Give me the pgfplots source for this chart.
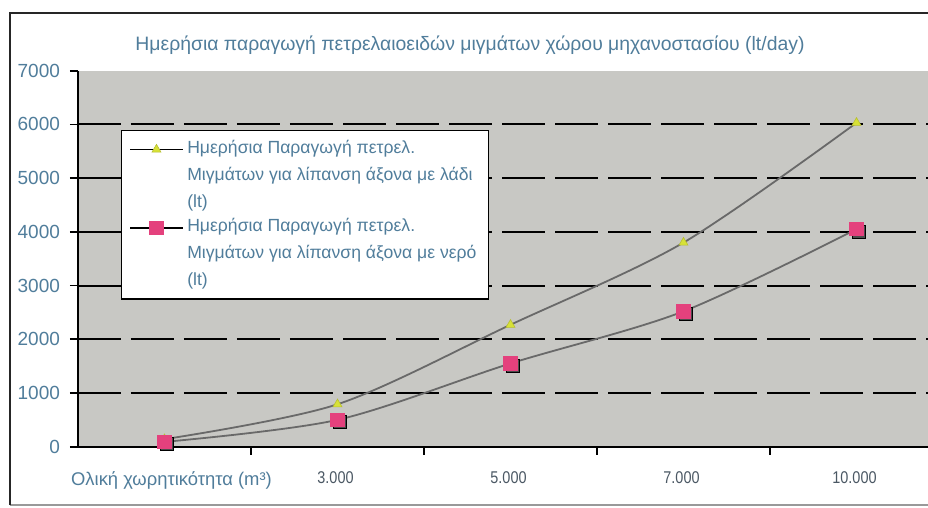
\documentclass[border=0pt]{standalone}
\usepackage{fontspec}
\setmainfont{Liberation Sans}
\newfontfamily\narrowfont[FakeStretch=0.85]{Liberation Sans}
\usepackage{pgfplots}
\pgfplotsset{compat=1.18}

\definecolor{plotgray}{RGB}{200,200,196}
\definecolor{textblue}{RGB}{80,125,155}
\definecolor{ticktext}{RGB}{75,88,100}
\definecolor{oilyellow}{RGB}{215,225,55}
\definecolor{waterpink}{RGB}{228,65,125}
\definecolor{curvegray}{RGB}{105,105,105}

% daily production, oil lubrication / water lubrication (lt)
\begin{document}
\begin{tikzpicture}
\useasboundingbox (0pt,0pt) rectangle (464pt,-254pt);
\clip (0pt,0pt) rectangle (464pt,-254pt);
\fill[white] (0pt,0pt) rectangle (464pt,-254pt);
\draw[line width=0.8pt, black!40] (5pt,-252.5pt) -- (480pt,-252.5pt);
\draw[line width=1pt, black!85] (5pt,-252.5pt) -- (5pt,-6.5pt) -- (480pt,-6.5pt);
\node[font=\fontsize{9.7}{12}\selectfont, text=textblue] at (235pt,-22.5pt)
  {Ημερήσια παραγωγή πετρελαιοειδών μιγμάτων χώρου μηχανοστασίου (lt/day)};
\begin{axis}[
  at={(39pt,-223.35pt)}, anchor=south west,
  scale only axis, width=432.5pt, height=188pt,
  xmin=0.5, xmax=5.5, ymin=0, ymax=7000,
  axis lines=left, axis line style={-, line width=0.8pt, black},
  axis background/.style={fill=plotgray},
  tick align=outside, major tick length=4pt,
  tick style={black, line width=0.8pt},
  xtick={1.5,2.5,3.5,4.5}, xticklabels={},
  extra x ticks={1,2,3,4,5},
  extra x tick labels={{\fontsize{9.2}{11}\normalfont\textcolor{textblue}{\hspace{9pt}Ολική χωρητικότητα (m³)}},3.000,5.000,7.000,10.000},
  extra x tick style={tick style={draw=none}},
  xticklabel style={font=\narrowfont\fontsize{8.5}{10}\selectfont, text=ticktext,
    yshift=-5pt, xshift=-1pt},
  ytick={0,1000,...,7000},
  extra y ticks={1000,2000,...,6000},
  extra y tick labels={,,,,,},
  extra y tick style={grid=major, tick style={draw=none}},
  major grid style={black, line width=1pt, dash pattern=on 21.5pt off 5pt},
  yticklabel style={font=\fontsize{9.5}{10}\selectfont, text=textblue, xshift=-1.5pt},
  /pgf/number format/1000 sep={},
  /pgf/number format/assume math mode=true,
  legend image code/.code={%
    \draw[mark repeat=2,mark phase=2,#1,draw=black,line width=0.8pt]
    plot coordinates {(0pt,13pt) (13pt,13pt) (26pt,13pt)};},
  legend style={at={(0.0497,0.843)}, anchor=north west, draw=black, line width=0.7pt,
    fill=white, text=textblue, font=\fontsize{8.8}{13.5}\selectfont,
    inner xsep=4pt, inner ysep=3pt, row sep=0pt,
    cells={anchor=west, align=left}},
  legend cell align=left,
]
\addplot[curvegray, line width=0.9pt, smooth, mark=triangle*, mark size=2.6pt,
  mark options={fill=oilyellow, draw=oilyellow!85!black, line width=0.3pt, solid}]
  coordinates {(1,140) (2,790) (3,2270) (4,3800) (5,6030)};
\addlegendentry{Ημερήσια Παραγωγή πετρελ.\\Μιγμάτων για λίπανση άξονα με λάδι\\(lt)}
\addplot[only marks, mark=square*, mark size=3.2pt, forget plot,
  mark options={fill=black!70, draw=none, xshift=1.2pt, yshift=-1.2pt}]
  coordinates {(1,90) (2,500) (3,1550) (4,2520) (5,4050)};
\addplot[curvegray, line width=0.9pt, smooth, mark=square*, mark size=3.2pt,
  mark options={fill=waterpink, draw=waterpink, solid}]
  coordinates {(1,90) (2,500) (3,1550) (4,2520) (5,4050)};
\addlegendentry{Ημερήσια Παραγωγή πετρελ.\\Μιγμάτων για λίπανση άξονα με νερό\\(lt)}
\end{axis}
\end{tikzpicture}
\end{document}
